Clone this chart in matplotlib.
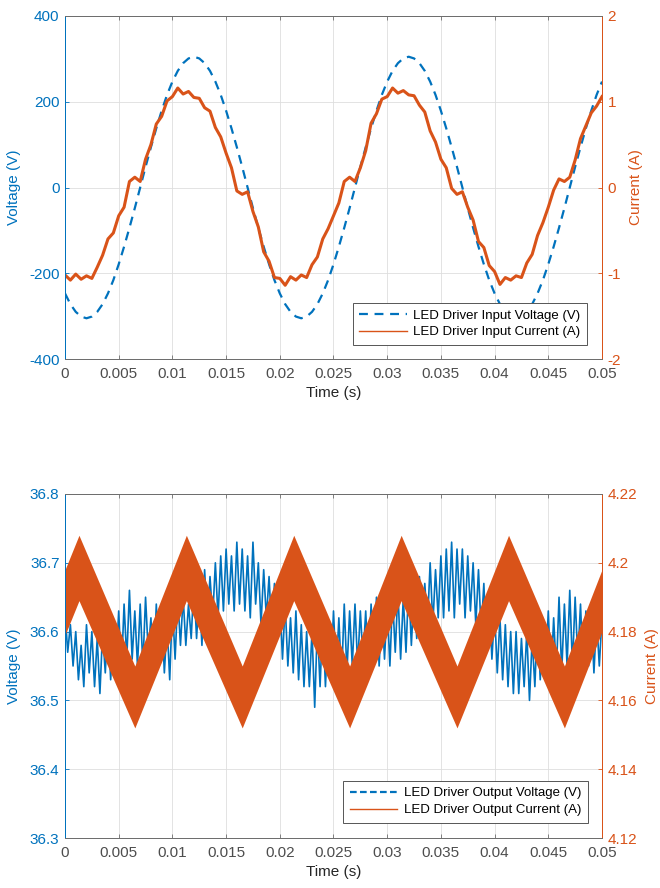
import matplotlib

matplotlib.use("Agg")
import matplotlib.pyplot as plt  # noqa: E402
import numpy as np  # noqa: E402
from matplotlib.lines import Line2D  # noqa: E402

plt.rcParams["font.family"] = ["Liberation Sans", "DejaVu Sans"]

BLUE = "#0072BD"
ORANGE = "#D95319"
GRAY = "#6e6e6e"

# ---- top panel: LED driver input (samples every 0.5 ms) ----
t_in = np.linspace(0, 0.05, 101)
v_in = [
    -247, -272, -290, -301, -305, -301, -290, -272, -247, -216,
    -179, -138, -94, -48, 0, 48, 94, 138, 179, 216,
    247, 272, 290, 301, 305, 301, 290, 272, 247, 216,
    179, 138, 94, 48, 0, -48, -94, -138, -179, -216,
    -247, -272, -290, -301, -305, -301, -290, -272, -247, -216,
    -179, -138, -94, -48, 0, 48, 94, 138, 179, 216,
    247, 272, 290, 301, 305, 301, 290, 272, 247, 216,
    179, 138, 94, 48, 0, -48, -94, -138, -179, -216,
    -247, -272, -290, -301, -305, -301, -290, -272, -247, -216,
    -179, -138, -94, -48, 0, 48, 94, 138, 179, 216,
    247,
]
i_in = [
    -1.02, -1.08, -1.01, -1.07, -1.03, -1.06, -0.93, -0.79, -0.60, -0.53,
    -0.33, -0.23, 0.07, 0.12, 0.07, 0.33, 0.50, 0.74, 0.83, 1.01,
    1.06, 1.16, 1.09, 1.12, 1.05, 1.04, 0.93, 0.89, 0.70, 0.59,
    0.40, 0.23, -0.04, -0.08, -0.05, -0.28, -0.46, -0.75, -0.86, -1.05,
    -1.06, -1.14, -1.04, -1.08, -1.02, -1.05, -0.90, -0.81, -0.60, -0.48,
    -0.33, -0.18, 0.07, 0.12, 0.07, 0.23, 0.43, 0.75, 0.86, 1.03,
    1.06, 1.16, 1.10, 1.13, 1.08, 1.07, 0.96, 0.88, 0.66, 0.53,
    0.33, 0.23, -0.01, -0.08, -0.05, -0.23, -0.38, -0.63, -0.70, -0.91,
    -0.98, -1.13, -1.05, -1.08, -1.03, -1.05, -0.88, -0.78, -0.56, -0.41,
    -0.23, -0.03, 0.10, 0.07, 0.12, 0.32, 0.57, 0.72, 0.87, 0.95,
    1.06,
]

# ---- bottom panel: LED driver output ----
# output voltage, samples every 0.25 ms
t_out = np.linspace(0, 0.05, 201)
v_out = [
    36.63, 36.57, 36.61, 36.55, 36.60, 36.53, 36.58, 36.52,
    36.61, 36.54, 36.60, 36.52, 36.59, 36.51, 36.60, 36.54,
    36.62, 36.53, 36.60, 36.55, 36.63, 36.54, 36.64, 36.56,
    36.66, 36.56, 36.63, 36.55, 36.64, 36.55, 36.65, 36.57,
    36.62, 36.53, 36.64, 36.55, 36.63, 36.54, 36.61, 36.53,
    36.64, 36.56, 36.65, 36.58, 36.65, 36.58, 36.64, 36.59,
    36.67, 36.59, 36.66, 36.58, 36.69, 36.61, 36.68, 36.62,
    36.70, 36.62, 36.71, 36.63, 36.72, 36.64, 36.71, 36.63,
    36.73, 36.64, 36.72, 36.63, 36.71, 36.62, 36.73, 36.64,
    36.70, 36.61, 36.69, 36.62, 36.68, 36.60, 36.67, 36.59,
    36.65, 36.56, 36.64, 36.55, 36.62, 36.54, 36.63, 36.53,
    36.61, 36.52, 36.60, 36.52, 36.60, 36.49, 36.61, 36.52,
    36.62, 36.52, 36.61, 36.53, 36.63, 36.54, 36.62, 36.53,
    36.64, 36.54, 36.63, 36.55, 36.64, 36.55, 36.63, 36.56,
    36.63, 36.54, 36.64, 36.55, 36.65, 36.55, 36.64, 36.56,
    36.64, 36.55, 36.65, 36.57, 36.66, 36.56, 36.65, 36.57,
    36.67, 36.58, 36.66, 36.59, 36.68, 36.60, 36.67, 36.61,
    36.70, 36.61, 36.69, 36.62, 36.71, 36.62, 36.72, 36.63,
    36.73, 36.62, 36.72, 36.64, 36.72, 36.62, 36.71, 36.63,
    36.70, 36.61, 36.69, 36.60, 36.67, 36.57, 36.65, 36.56,
    36.63, 36.54, 36.62, 36.53, 36.61, 36.52, 36.60, 36.51,
    36.60, 36.51, 36.59, 36.52, 36.60, 36.50, 36.59, 36.52,
    36.62, 36.53, 36.61, 36.54, 36.63, 36.53, 36.62, 36.54,
    36.65, 36.54, 36.64, 36.55, 36.66, 36.55, 36.65, 36.56,
    36.64, 36.54, 36.63, 36.55, 36.63, 36.54, 36.62, 36.55,
    36.62,
]
# output current ripple band: envelope at the triangle corners
t_env = [0.0, 0.0013, 0.0065, 0.0113, 0.0165, 0.0213, 0.0265,
         0.0313, 0.0365, 0.0413, 0.0465, 0.05]
i_out_hi = [4.198, 4.208, 4.170, 4.208, 4.170, 4.208, 4.170,
            4.208, 4.170, 4.208, 4.170, 4.198]
i_out_lo = [4.179, 4.189, 4.152, 4.189, 4.152, 4.189, 4.152,
            4.189, 4.152, 4.189, 4.152, 4.180]

x_ticks = [0, 0.005, 0.01, 0.015, 0.02, 0.025, 0.03, 0.035, 0.04, 0.045, 0.05]
x_labels = ["0", "0.005", "0.01", "0.015", "0.02", "0.025", "0.03",
            "0.035", "0.04", "0.045", "0.05"]


def style_axes(ax, ax_r, yl, yr, yl_labels, yr_labels, ylim_l, ylim_r):
    ax.set_xlim(0, 0.05)
    ax.set_xticks(x_ticks)
    ax.set_xticklabels(x_labels)
    ax.set_ylim(*ylim_l)
    ax.set_yticks(yl)
    ax.set_yticklabels(yl_labels)
    ax_r.set_ylim(*ylim_r)
    ax_r.set_yticks(yr)
    ax_r.set_yticklabels(yr_labels)

    ax.grid(True, color="#dedede", linewidth=0.6)
    ax.set_axisbelow(True)
    ax.tick_params(axis="x", direction="in", length=3, width=0.6, colors=GRAY,
                   labelsize=11, labelcolor="#4d4d4d", top=True, pad=6)
    ax.tick_params(axis="y", direction="in", length=3, width=0.6, colors=BLUE,
                   labelsize=11, pad=4)
    ax_r.tick_params(axis="y", direction="in", length=3, width=0.6, colors=ORANGE,
                     labelsize=11, pad=4)
    for a in (ax, ax_r):
        a.spines["top"].set_color(GRAY)
        a.spines["bottom"].set_color(GRAY)
        a.spines["left"].set_color(BLUE)
        a.spines["right"].set_color(ORANGE)
        for s in a.spines.values():
            s.set_linewidth(0.7)
    ax.set_xlabel("Time (s)", fontsize=11, color="#262626", labelpad=3)
    ax.set_ylabel("Voltage (V)", fontsize=11, color=BLUE, labelpad=6)
    ax_r.set_ylabel("Current (A)", fontsize=11, color=ORANGE, labelpad=6)


def add_legend(ax, handles, labels, anchor):
    leg = ax.legend(handles, labels, loc="lower right", bbox_to_anchor=anchor,
                    borderaxespad=0, fontsize=9.5, fancybox=False, framealpha=1,
                    edgecolor="#555555", handlelength=3.6, borderpad=0.5,
                    labelspacing=0.35, handletextpad=0.5)
    leg.get_frame().set_linewidth(0.7)
    return leg


fig = plt.figure(figsize=(6.6, 8.88), dpi=100)

# top
ax1 = fig.add_axes([0.0985, 0.5957, 0.8136, 0.3863])
ax1r = ax1.twinx()
ax1.plot(t_in, v_in, color=BLUE, linewidth=1.6, dashes=(4, 3))
ax1r.plot(t_in, i_in, color=ORANGE, linewidth=2.2)
style_axes(ax1, ax1r, [-400, -200, 0, 200, 400], [-2, -1, 0, 1, 2],
           ["-400", "-200", "0", "200", "400"], ["-2", "-1", "0", "1", "2"],
           (-400, 400), (-2, 2))
add_legend(ax1r,
           [Line2D([], [], color=BLUE, linewidth=1.6, dashes=(4, 3)),
            Line2D([], [], color=ORANGE, linewidth=1.0)],
           ["LED Driver Input Voltage (V)", "LED Driver Input Current (A)"],
           (0.972, 0.041))

# bottom
ax2 = fig.add_axes([0.0985, 0.0563, 0.8136, 0.3874])
ax2r = ax2.twinx()
ax2.plot(t_out, v_out, color=BLUE, linewidth=1.2)
ax2r.fill_between(t_env, i_out_lo, i_out_hi, color=ORANGE, linewidth=0)
style_axes(ax2, ax2r, [36.3, 36.4, 36.5, 36.6, 36.7, 36.8],
           [4.12, 4.14, 4.16, 4.18, 4.2, 4.22],
           ["36.3", "36.4", "36.5", "36.6", "36.7", "36.8"],
           ["4.12", "4.14", "4.16", "4.18", "4.2", "4.22"],
           (36.3, 36.8), (4.12, 4.22))
add_legend(ax2r,
           [Line2D([], [], color=BLUE, linewidth=1.6, dashes=(3, 1.5)),
            Line2D([], [], color=ORANGE, linewidth=1.0)],
           ["LED Driver Output Voltage (V)", "LED Driver Output Current (A)"],
           (0.974, 0.044))

fig.savefig("out.png", dpi=100, facecolor="white")
plt.close(fig)
